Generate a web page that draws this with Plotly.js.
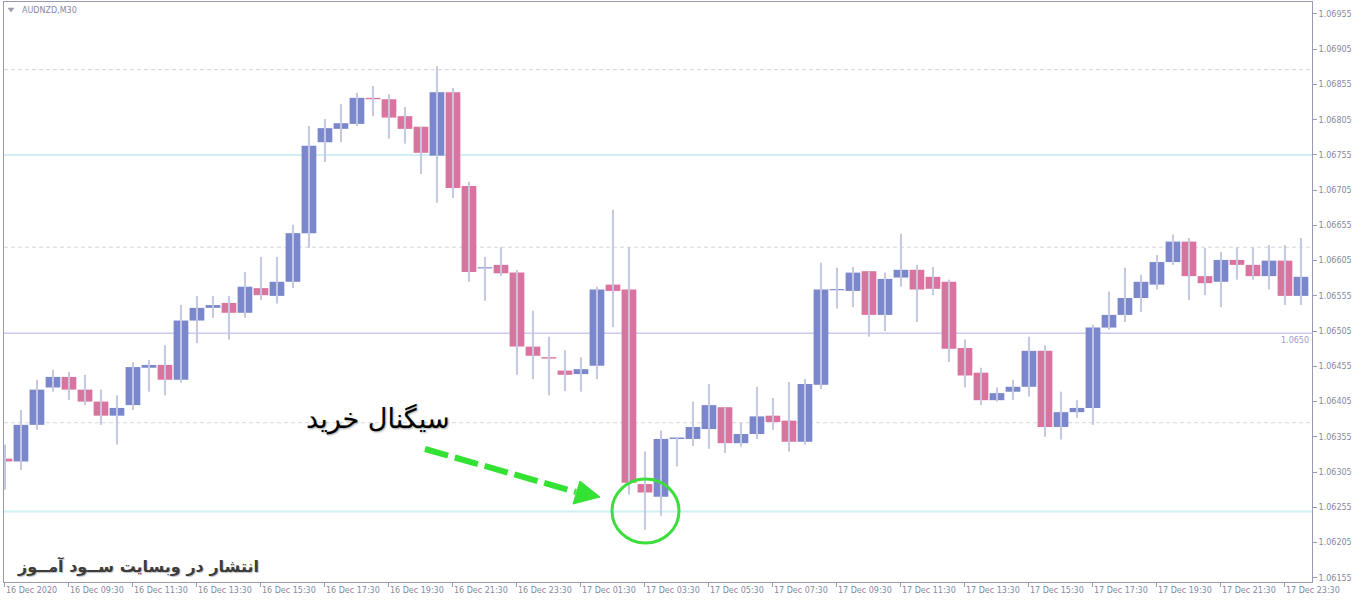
<!DOCTYPE html>
<html>
<head>
<meta charset="utf-8">
<script src="https://cdn.plot.ly/plotly-3.0.1.min.js"></script>
<style>
html,body{margin:0;padding:0;background:#fff;}
#chart{width:1360px;height:604px;}
</style>
</head>
<body>
<div id="chart"></div>
<script>
const symbolLabel = "AUDNZD,M30";

const times = [
"16 Dec 07:30","16 Dec 08:00","16 Dec 08:30","16 Dec 09:00","16 Dec 09:30","16 Dec 10:00","16 Dec 10:30","16 Dec 11:00",
"16 Dec 11:30","16 Dec 12:00","16 Dec 12:30","16 Dec 13:00","16 Dec 13:30","16 Dec 14:00","16 Dec 14:30","16 Dec 15:00",
"16 Dec 15:30","16 Dec 16:00","16 Dec 16:30","16 Dec 17:00","16 Dec 17:30","16 Dec 18:00","16 Dec 18:30","16 Dec 19:00",
"16 Dec 19:30","16 Dec 20:00","16 Dec 20:30","16 Dec 21:00","16 Dec 21:30","16 Dec 22:00","16 Dec 22:30","16 Dec 23:00",
"16 Dec 23:30","17 Dec 00:00","17 Dec 00:30","17 Dec 01:00","17 Dec 01:30","17 Dec 02:00","17 Dec 02:30","17 Dec 03:00",
"17 Dec 03:30","17 Dec 04:00","17 Dec 04:30","17 Dec 05:00","17 Dec 05:30","17 Dec 06:00","17 Dec 06:30","17 Dec 07:00",
"17 Dec 07:30","17 Dec 08:00","17 Dec 08:30","17 Dec 09:00","17 Dec 09:30","17 Dec 10:00","17 Dec 10:30","17 Dec 11:00",
"17 Dec 11:30","17 Dec 12:00","17 Dec 12:30","17 Dec 13:00","17 Dec 13:30","17 Dec 14:00","17 Dec 14:30","17 Dec 15:00",
"17 Dec 15:30","17 Dec 16:00","17 Dec 16:30","17 Dec 17:00","17 Dec 17:30","17 Dec 18:00","17 Dec 18:30","17 Dec 19:00",
"17 Dec 19:30","17 Dec 20:00","17 Dec 20:30","17 Dec 21:00","17 Dec 21:30","17 Dec 22:00","17 Dec 22:30","17 Dec 23:00",
"17 Dec 23:30","18 Dec 00:00"
];

const open = [
1.06324,1.06320,1.06372,1.06425,1.06440,1.06422,1.06405,1.06385,1.06400,1.06453,
1.06457,1.06436,1.06520,1.06538,1.06545,1.06531,1.06566,1.06555,1.06575,1.06644,
1.06773,1.06792,1.06799,1.06836,1.06834,1.06810,1.06795,1.06754,1.06844,1.06711,
1.06594,1.06599,1.06588,1.06483,1.06468,1.06449,1.06444,1.06456,1.06571,1.06564,
1.06288,1.06270,1.06352,1.06352,1.06366,1.06397,1.06346,1.06359,1.06385,1.06378,
1.06348,1.06429,1.06563,1.06562,1.06590,1.06528,1.06581,1.06592,1.06582,1.06575,
1.06481,1.06446,1.06407,1.06419,1.06426,1.06477,1.06369,1.06390,1.06396,1.06510,
1.06528,1.06552,1.06571,1.06603,1.06632,1.06583,1.06575,1.06606,1.06599,1.06583,
1.06605,1.06555
];
const high = [
1.06344,1.06393,1.06436,1.06450,1.06447,1.06443,1.06422,1.06414,1.06461,1.06464,
1.06485,1.06542,1.06555,1.06555,1.06555,1.06589,1.06610,1.06610,1.06656,1.06796,
1.06806,1.06827,1.06843,1.06853,1.06841,1.06823,1.06795,1.06881,1.06850,1.06717,
1.06610,1.06624,1.06592,1.06534,1.06497,1.06478,1.06468,1.06568,1.06677,1.06624,
1.06334,1.06364,1.06355,1.06405,1.06430,1.06397,1.06375,1.06426,1.06410,1.06433,
1.06437,1.06602,1.06595,1.06596,1.06590,1.06588,1.06643,1.06599,1.06596,1.06578,
1.06493,1.06453,1.06425,1.06436,1.06497,1.06485,1.06419,1.06407,1.06514,1.06561,
1.06595,1.06585,1.06613,1.06642,1.06637,1.06623,1.06617,1.06624,1.06624,1.06627,
1.06627,1.06637
];
const low = [
1.06280,1.06308,1.06365,1.06419,1.06407,1.06400,1.06372,1.06344,1.06393,1.06419,
1.06414,1.06432,1.06488,1.06524,1.06493,1.06524,1.06549,1.06544,1.06566,1.06623,
1.06745,1.06773,1.06796,1.06810,1.06778,1.06771,1.06728,1.06687,1.06694,1.06575,
1.06548,1.06583,1.06443,1.06437,1.06414,1.06420,1.06419,1.06437,1.06511,1.06273,
1.06223,1.06243,1.06313,1.06342,1.06338,1.06332,1.06341,1.06352,1.06365,1.06334,
1.06344,1.06423,1.06537,1.06539,1.06497,1.06505,1.06568,1.06518,1.06556,1.06461,
1.06425,1.06400,1.06405,1.06407,1.06412,1.06355,1.06351,1.06382,1.06372,1.06507,
1.06518,1.06532,1.06564,1.06599,1.06549,1.06556,1.06539,1.06578,1.06578,1.06564,
1.06542,1.06542
];
const close = [
1.06320,1.06372,1.06422,1.06440,1.06422,1.06405,1.06385,1.06396,1.06454,1.06457,
1.06436,1.06520,1.06538,1.06542,1.06531,1.06568,1.06556,1.06575,1.06644,1.06768,
1.06793,1.06800,1.06836,1.06834,1.06808,1.06792,1.06758,1.06844,1.06708,1.06589,
1.06595,1.06587,1.06483,1.06470,1.06466,1.06443,1.06451,1.06564,1.06562,1.06290,
1.06276,1.06352,1.06354,1.06369,1.06400,1.06346,1.06359,1.06384,1.06376,1.06348,
1.06430,1.06564,1.06564,1.06588,1.06528,1.06579,1.06592,1.06564,1.06565,1.06480,
1.06442,1.06407,1.06417,1.06426,1.06477,1.06369,1.06390,1.06396,1.06510,1.06528,
1.06552,1.06575,1.06603,1.06632,1.06583,1.06573,1.06606,1.06599,1.06583,1.06605,
1.06555,1.06582
];

const priceTicks = [1.06155,1.06205,1.06255,1.06305,1.06355,1.06405,1.06455,1.06505,1.06555,
1.06605,1.06655,1.06705,1.06755,1.06805,1.06855,1.06905,1.06955];

const tickTimes = ["16 Dec 07:30","16 Dec 09:30","16 Dec 11:30","16 Dec 13:30","16 Dec 15:30","16 Dec 17:30",
"16 Dec 19:30","16 Dec 21:30","16 Dec 23:30","17 Dec 01:30","17 Dec 03:30","17 Dec 05:30","17 Dec 07:30",
"17 Dec 09:30","17 Dec 11:30","17 Dec 13:30","17 Dec 15:30","17 Dec 17:30","17 Dec 19:30","17 Dec 21:30","17 Dec 23:30"];
const tickText = ["16 Dec 2020","16 Dec 09:30","16 Dec 11:30","16 Dec 13:30","16 Dec 15:30","16 Dec 17:30",
"16 Dec 19:30","16 Dec 21:30","16 Dec 23:30","17 Dec 01:30","17 Dec 03:30","17 Dec 05:30","17 Dec 07:30",
"17 Dec 09:30","17 Dec 11:30","17 Dec 13:30","17 Dec 15:30","17 Dec 17:30","17 Dec 19:30","17 Dec 21:30","17 Dec 23:30"];

const gridLevels = [1.06876, 1.06624, 1.06375];
const cyanLevels = [1.06755, 1.06249];
const priceLine = 1.06502;
const priceLineLabel = "1.0650";
const signalText = "سیگنال خرید";
const watermarkText = "انتشار در وبسایت ســود آمــوز";

// ---- build ----
const BULL = "rgb(122,135,204)";
const BEAR = "rgb(218,116,158)";
const WICK = "rgb(196,200,224)";
const AXIS = "#9a9ab2";
const TXT = "#8488a0";

const xs = times.map((t, i) => i);
const wickX = [], wickY = [];
xs.forEach((x, i) => { wickX.push(x, x, null); wickY.push(low[i], high[i], null); });

const bodyBase = xs.map((x, i) => Math.min(open[i], close[i]));
const bodyLen = xs.map((x, i) => Math.max(Math.abs(close[i] - open[i]), 0.000016));
const bodyCol = xs.map((x, i) => close[i] >= open[i] ? BULL : BEAR);

const W = 1360, H = 604, ML = 4, MR = 48, MT = 2, MB = 22;
const PW = W - ML - MR, PH = H - MT - MB;
const px = v => (v - ML) / PW;
const py = v => (H - MB - v) / PH;

const shapes = [];
gridLevels.forEach(y => shapes.push({type:"line", xref:"paper", x0:0, x1:1, yref:"y", y0:y, y1:y,
  line:{color:"#d6d6de", width:1, dash:"4px,3px"}, layer:"below"}));
cyanLevels.forEach(y => shapes.push({type:"line", xref:"paper", x0:0, x1:1, yref:"y", y0:y, y1:y,
  line:{color:"rgb(208,240,243)", width:2}, layer:"below"}));
shapes.push({type:"line", xref:"paper", x0:0, x1:1, yref:"y", y0:priceLine, y1:priceLine,
  line:{color:"rgb(202,202,240)", width:1.5}, layer:"below"});

// decorations: dashed green arrow and circle
shapes.push({type:"line", xref:"paper", yref:"paper", x0:px(425), y0:py(449), x1:px(576), y1:py(492),
  line:{color:"rgb(52,226,52)", width:6, dash:"24px,7px"}});
shapes.push({type:"path", xref:"paper", yref:"paper",
  path:`M ${px(580)} ${py(481)} L ${px(600)} ${py(497)} L ${px(573)} ${py(504)} Z`,
  fillcolor:"rgb(52,226,52)", line:{color:"rgb(52,226,52)", width:1}});
shapes.push({type:"circle", xref:"paper", yref:"paper", x0:px(612), x1:px(679), y0:py(543), y1:py(479),
  line:{color:"rgb(60,222,60)", width:3}});
// small menu triangle
shapes.push({type:"path", xref:"paper", yref:"paper",
  path:`M ${px(8)} ${py(8)} L ${px(14)} ${py(8)} L ${px(11)} ${py(12)} Z`,
  fillcolor:"#9a9ab0", line:{color:"#9a9ab0", width:0.5}});

const annotations = [
  {xref:"paper", yref:"paper", x:px(20), y:py(11), xanchor:"left", yanchor:"middle", showarrow:false,
   text:symbolLabel, font:{family:"DejaVu Sans", size:8, color:TXT}},
  {xref:"paper", yref:"y", x:px(1311), y:priceLine, xanchor:"right", yanchor:"top", yshift:-1, showarrow:false,
   text:priceLineLabel, font:{family:"DejaVu Sans", size:8, color:"#9a9ad0"}},
  {xref:"paper", yref:"paper", x:px(378), y:py(419), xanchor:"center", yanchor:"middle", showarrow:false,
   text:signalText, font:{family:"DejaVu Sans", size:27, color:"#000", shadow:"1px 1px 2px rgba(0,0,0,0.35)"}},
  {xref:"paper", yref:"paper", x:px(15), y:py(566), xanchor:"left", yanchor:"middle", showarrow:false,
   text:"<b>"+watermarkText+"</b>", font:{family:"DejaVu Sans", size:16, color:"#3c3c3c", shadow:"1px 1px 1px rgba(0,0,0,0.25)"}}
];

const traces = [
  {type:"scatter", mode:"lines", x:wickX, y:wickY, line:{color:WICK, width:2}, hoverinfo:"skip"},
  {type:"bar", x:xs, y:bodyLen, base:bodyBase, width:0.92, marker:{color:bodyCol, line:{width:0}}, hoverinfo:"skip"}
];

const layout = {
  width:W, height:H, margin:{l:ML, r:MR, t:MT, b:MB},
  paper_bgcolor:"#fff", plot_bgcolor:"#fff", showlegend:false,
  xaxis:{range:[-0.06, 81.69], tickmode:"array", tickvals:tickTimes.map(t => times.indexOf(t)), ticktext:tickText,
    ticks:"outside", ticklen:4, tickcolor:AXIS, showgrid:false, zeroline:false, showline:true, linecolor:AXIS,
    mirror:true, ticklabelposition:"outside right", tickfont:{family:"DejaVu Sans", size:8, color:TXT}},
  yaxis:{side:"right", range:[1.06149, 1.06972], tickmode:"array", tickvals:priceTicks,
    ticktext:priceTicks.map(v => v.toFixed(5)), ticks:"outside", ticklen:4, tickcolor:AXIS,
    showgrid:false, zeroline:false, showline:true, linecolor:AXIS, mirror:true,
    tickfont:{family:"DejaVu Sans", size:8, color:TXT}},
  shapes:shapes, annotations:annotations
};

Plotly.newPlot("chart", traces, layout, {staticPlot:true, displayModeBar:false});
</script>
</body>
</html>
